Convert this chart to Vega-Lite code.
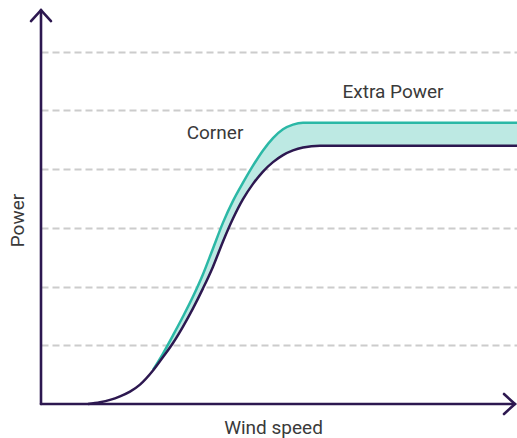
{
  "$schema": "https://vega.github.io/schema/vega-lite/v6.json",
  "width": 476,
  "height": 394,
  "autosize": {"type": "none"},
  "padding": {"left": 41, "top": 10, "right": 0, "bottom": 34},
  "background": "white",
  "config": {"view": {"stroke": null}, "font": "Roboto"},
  "datasets": {
    "curves": [
      {"x": 47, "purple": 0, "teal": null},
      {"x": 59, "purple": 0.03, "teal": null},
      {"x": 69, "purple": 0.07, "teal": null},
      {"x": 79, "purple": 0.13, "teal": null},
      {"x": 89, "purple": 0.21, "teal": null},
      {"x": 99, "purple": 0.33, "teal": null},
      {"x": 112, "purple": 0.57, "teal": 0.58},
      {"x": 122, "purple": 0.8, "teal": 0.86},
      {"x": 132, "purple": 1.04, "teal": 1.17},
      {"x": 142, "purple": 1.32, "teal": 1.49},
      {"x": 152, "purple": 1.63, "teal": 1.83},
      {"x": 162, "purple": 1.97, "teal": 2.21},
      {"x": 172, "purple": 2.34, "teal": 2.65},
      {"x": 182, "purple": 2.77, "teal": 3.09},
      {"x": 192, "purple": 3.16, "teal": 3.46},
      {"x": 202, "purple": 3.49, "teal": 3.77},
      {"x": 212, "purple": 3.75, "teal": 4.06},
      {"x": 222, "purple": 3.96, "teal": 4.32},
      {"x": 232, "purple": 4.12, "teal": 4.53},
      {"x": 242, "purple": 4.24, "teal": 4.68},
      {"x": 252, "purple": 4.32, "teal": 4.76},
      {"x": 262, "purple": 4.37, "teal": 4.79},
      {"x": 279, "purple": 4.4, "teal": 4.79},
      {"x": 299, "purple": 4.4, "teal": 4.79},
      {"x": 476, "purple": 4.4, "teal": 4.79}
    ],
    "one": [{}]
  },
  "layer": [
    {
      "data": {"name": "curves"},
      "mark": {"type": "area", "color": "#bde9e3", "interpolate": "monotone", "opacity": 1},
      "transform": [{"filter": "datum.teal != null"}],
      "encoding": {
        "x": {
          "field": "x", "type": "quantitative",
          "scale": {"domain": [0, 476], "nice": false, "zero": false},
          "axis": {
            "title": "Wind speed", "domain": false, "ticks": false, "labels": false, "grid": false,
            "titleFontSize": 19, "titleFontWeight": "normal", "titleColor": "#3a3a3a",
            "titleX": 232, "titleY": 23, "titleAlign": "center", "titleBaseline": "middle", "titleFont": "Roboto"
          }
        },
        "y": {
          "field": "teal", "type": "quantitative",
          "scale": {"domain": [0, 6.712], "nice": false, "zero": false},
          "axis": {
            "title": "Power", "values": [1, 2, 3, 4, 5, 6], "domain": false, "ticks": false, "labels": false,
            "grid": true, "gridDash": [7, 4], "gridColor": "#cccccc", "gridWidth": 1.8,
            "titleFontSize": 19, "titleFontWeight": "normal", "titleColor": "#3a3a3a",
            "titleX": -24, "titleY": 210, "titleAngle": 270, "titleAlign": "center", "titleBaseline": "middle", "titleFont": "Roboto"
          }
        },
        "y2": {"field": "purple"}
      }
    },
    {
      "data": {"name": "curves"},
      "mark": {"type": "line", "color": "#2bb8a6", "strokeWidth": 2.5, "interpolate": "monotone"},
      "transform": [{"filter": "datum.teal != null"}],
      "encoding": {"x": {"field": "x", "type": "quantitative"}, "y": {"field": "teal", "type": "quantitative"}}
    },
    {
      "data": {"name": "curves"},
      "mark": {"type": "line", "color": "#2d1850", "strokeWidth": 2.5, "interpolate": "monotone"},
      "encoding": {"x": {"field": "x", "type": "quantitative"}, "y": {"field": "purple", "type": "quantitative"}}
    },
    {
      "data": {"name": "one"},
      "mark": {"type": "rule", "color": "#2d1850", "strokeWidth": 2.6, "strokeCap": "round"},
      "encoding": {"x": {"datum": 0}, "y": {"datum": 0}, "y2": {"datum": 6.71}}
    },
    {
      "data": {"name": "one"},
      "mark": {"type": "rule", "color": "#2d1850", "strokeWidth": 2.6, "strokeCap": "round"},
      "encoding": {"y": {"datum": 0}, "x": {"datum": 0}, "x2": {"datum": 474}}
    },
    {
      "data": {"name": "one"},
      "mark": {"type": "point", "shape": "M-1,1.1L0,0L1,1.1", "filled": false, "stroke": "#2d1850", "strokeWidth": 2.6, "size": 400, "opacity": 1, "strokeCap": "round", "strokeJoin": "miter"},
      "encoding": {"x": {"datum": 0}, "y": {"datum": 6.71}}
    },
    {
      "data": {"name": "one"},
      "mark": {"type": "point", "shape": "M-1.1,-1L0,0L-1.1,1", "filled": false, "stroke": "#2d1850", "strokeWidth": 2.6, "size": 400, "opacity": 1, "strokeCap": "round", "strokeJoin": "miter"},
      "encoding": {"x": {"datum": 474}, "y": {"datum": 0}}
    },
    {
      "data": {"name": "one"},
      "mark": {"type": "text", "text": "Extra Power", "fontSize": 19, "color": "#3a3a3a", "align": "center", "baseline": "middle", "font": "Roboto"},
      "encoding": {"x": {"datum": 352}, "y": {"datum": 5.32}}
    },
    {
      "data": {"name": "one"},
      "mark": {"type": "text", "text": "Corner", "fontSize": 19, "color": "#3a3a3a", "align": "center", "baseline": "middle", "font": "Roboto"},
      "encoding": {"x": {"datum": 174}, "y": {"datum": 4.62}}
    }
  ]
}
